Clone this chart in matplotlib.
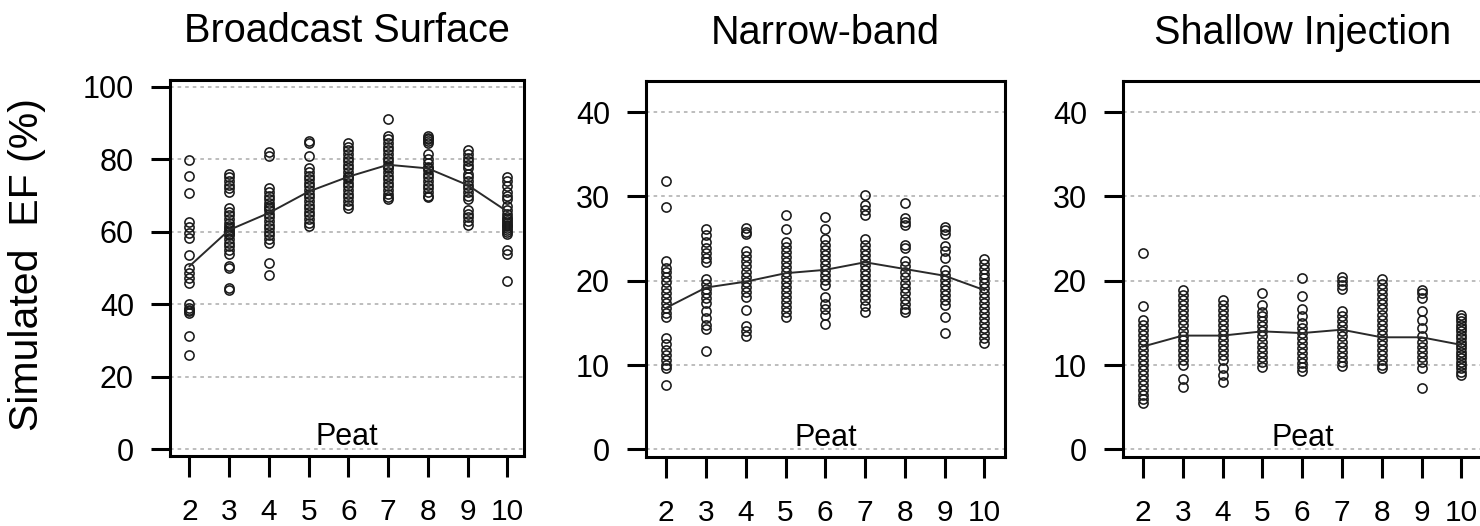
import matplotlib
matplotlib.use("Agg")
import matplotlib.pyplot as plt

plt.rcParams['font.family'] = ['Liberation Sans', 'DejaVu Sans']

peat = [2, 3, 4, 5, 6, 7, 8, 9, 10]
titles = ['Broadcast Surface', 'Narrow-band', 'Shallow Injection']

# simulated EF (%) per peat level
broadcast_pts = [
    [79.8, 75.5, 70.6, 62.6, 61.4, 59.6, 58.2, 53.6, 49.9, 48.5, 47.2, 45.8, 40.0, 39.0, 38.5, 38.0, 37.5, 31.2, 25.9],
    [76.0, 75.0, 74.0, 73.0, 72.0, 71.0, 66.5, 65.5, 64.5, 63.5, 62.5, 61.5, 61.0, 60.5, 60.0, 59.5, 59.0, 58.0, 57.0, 56.0, 55.0, 54.0, 50.5, 50.0, 44.5, 44.0],
    [82.0, 81.0, 72.0, 71.0, 70.0, 69.0, 68.0, 67.0, 66.5, 66.0, 65.0, 64.0, 63.0, 62.0, 61.0, 60.0, 59.0, 58.0, 57.0, 51.5, 48.0],
    [85.0, 84.5, 81.0, 77.5, 76.5, 75.5, 74.5, 73.5, 72.5, 71.5, 70.5, 69.5, 68.5, 67.5, 66.5, 65.5, 64.5, 63.5, 62.5, 61.5],
    [84.5, 83.5, 82.5, 81.5, 80.5, 79.5, 78.5, 77.5, 76.5, 75.5, 75.0, 74.5, 73.5, 72.5, 71.5, 70.5, 69.5, 68.5, 67.5, 66.5],
    [91.0, 86.5, 85.5, 84.5, 83.5, 82.5, 81.5, 80.5, 79.5, 78.5, 78.0, 77.5, 76.5, 75.5, 74.5, 73.5, 72.5, 71.5, 70.5, 69.5, 69.0],
    [86.5, 86.0, 85.5, 85.0, 84.5, 81.5, 80.0, 79.0, 78.0, 77.5, 77.0, 76.0, 75.0, 74.0, 73.0, 72.0, 71.0, 70.0, 69.5],
    [82.5, 81.5, 80.5, 79.5, 78.5, 77.5, 76.0, 75.0, 74.0, 73.0, 72.0, 71.0, 70.0, 69.0, 66.0, 65.0, 64.0, 63.0, 62.0],
    [75.0, 74.0, 72.5, 71.0, 70.0, 69.0, 67.0, 66.0, 65.0, 64.0, 63.5, 63.0, 62.5, 62.0, 61.5, 61.0, 60.5, 60.0, 59.5, 55.0, 54.0, 46.5],
]
broadcast_line = [50.5, 60.5, 65.2, 71.1, 75.2, 78.5, 77.5, 72.9, 65.6]

narrow_pts = [
    [31.8, 28.8, 22.4, 21.5, 21.0, 20.5, 19.8, 19.2, 18.6, 18.0, 17.4, 16.8, 16.2, 15.7, 13.2, 12.5, 11.8, 11.2, 10.6, 10.0, 9.7, 7.6],
    [26.2, 25.4, 24.6, 23.9, 23.3, 22.7, 22.2, 20.2, 19.6, 19.0, 18.5, 18.0, 17.4, 16.4, 15.6, 14.8, 14.3, 11.7],
    [26.3, 25.8, 25.5, 23.5, 22.9, 22.3, 21.7, 21.1, 20.5, 19.9, 19.3, 18.7, 18.1, 16.5, 14.6, 14.0, 13.4],
    [27.8, 26.2, 24.6, 24.0, 23.4, 22.8, 22.2, 21.6, 21.0, 20.4, 19.9, 19.3, 18.7, 18.1, 17.5, 16.9, 16.3, 15.7],
    [27.6, 26.1, 24.9, 24.3, 23.7, 23.1, 22.5, 21.9, 21.3, 20.7, 20.1, 19.5, 18.1, 17.3, 16.7, 15.9, 14.9],
    [30.2, 29.0, 28.4, 27.8, 24.9, 24.3, 23.7, 23.1, 22.5, 21.9, 21.3, 20.7, 20.1, 19.5, 18.9, 18.3, 17.7, 17.0, 16.3],
    [29.2, 27.4, 27.0, 26.6, 24.3, 23.9, 22.3, 21.7, 21.1, 20.5, 19.7, 19.1, 18.6, 17.9, 17.3, 16.7, 16.3],
    [26.4, 26.0, 25.6, 24.1, 23.5, 22.7, 21.3, 20.7, 20.1, 19.5, 18.9, 18.3, 17.7, 17.1, 15.7, 13.8],
    [22.6, 22.0, 21.4, 20.8, 20.3, 19.7, 19.1, 18.6, 18.0, 17.4, 16.8, 16.2, 15.6, 15.0, 14.4, 13.8, 13.2, 12.6],
]
narrow_line = [16.8, 19.2, 19.9, 20.9, 21.3, 22.2, 21.4, 20.6, 18.9]

shallow_pts = [
    [23.3, 17.0, 15.4, 14.8, 14.2, 13.6, 13.0, 12.4, 11.8, 11.2, 10.6, 10.0, 9.4, 8.8, 8.2, 7.6, 7.0, 6.5, 6.0, 5.5],
    [18.9, 18.3, 17.7, 17.1, 16.5, 15.9, 15.3, 14.7, 14.1, 13.5, 13.0, 12.4, 11.8, 11.2, 10.6, 10.0, 8.4, 7.4],
    [17.7, 17.1, 16.5, 15.9, 15.4, 14.8, 14.2, 13.6, 13.0, 12.4, 11.8, 11.2, 10.6, 9.6, 8.8, 8.0],
    [18.6, 17.1, 16.3, 15.8, 15.2, 14.6, 14.0, 13.4, 12.8, 12.2, 11.6, 11.0, 10.4, 9.8],
    [20.3, 18.2, 16.6, 15.8, 15.0, 14.4, 13.8, 13.2, 12.6, 12.0, 11.4, 10.8, 10.2, 9.8, 9.3],
    [20.5, 20.0, 19.5, 19.0, 16.4, 15.8, 15.2, 14.6, 14.0, 13.4, 12.8, 12.2, 11.6, 11.0, 10.4, 9.9],
    [20.2, 19.6, 19.0, 18.4, 17.8, 17.2, 16.6, 16.0, 15.4, 14.8, 14.2, 13.6, 13.0, 12.4, 11.8, 11.2, 10.6, 10.0, 9.6],
    [18.9, 18.5, 18.0, 16.4, 15.4, 14.4, 13.4, 12.8, 12.2, 11.6, 11.0, 10.4, 9.6, 7.3],
    [16.0, 15.6, 15.2, 14.8, 14.4, 14.0, 13.6, 13.2, 12.8, 12.4, 12.0, 11.6, 11.2, 10.8, 10.4, 10.0, 9.6, 9.2, 8.8],
]
shallow_line = [12.2, 13.5, 13.5, 14.0, 13.8, 14.2, 13.3, 13.3, 12.4]

W, H = 1480, 526
fig = plt.figure(figsize=(W / 100, H / 100), dpi=100)

# axes boxes in pixels: left, top, right, bottom
boxes = [(170, 80, 524, 456), (646, 81, 1005, 457), (1123, 81, 1482, 457)]
ylims = [(-1.9, 101.9), (-0.9, 43.7), (-0.9, 43.7)]
xlims = [(1.51, 10.42), (1.49, 10.52), (1.5, 10.52)]
yticks = [[0, 20, 40, 60, 80, 100], [0, 10, 20, 30, 40], [0, 10, 20, 30, 40]]
all_pts = [broadcast_pts, narrow_pts, shallow_pts]
all_line = [broadcast_line, narrow_line, shallow_line]

for i in range(3):
    l, t, r, b = boxes[i]
    ax = fig.add_axes([l / W, 1 - b / H, (r - l) / W, (b - t) / H])
    for yt in yticks[i]:
        ax.axhline(yt, color='#b8b8b8', lw=1.3, ls=(0, (2, 2.2)), zorder=0)
    for x, vals in zip(peat, all_pts[i]):
        ax.plot([x] * len(vals), vals, ls='none', marker='o', ms=6.6,
                mfc='none', mec='#1a1a1a', mew=1.15, zorder=2)
    ax.plot(peat, all_line[i], color='#2a2a2a', lw=1.4, zorder=3)
    ax.set_xlim(*xlims[i])
    ax.set_ylim(*ylims[i])
    ax.set_xticks(peat)
    ax.set_yticks(yticks[i])
    ax.tick_params(axis='x', direction='out', length=15, width=2.2, pad=15, labelsize=21.5)
    ax.tick_params(axis='y', direction='out', length=14, width=2.2, pad=12, labelsize=22)
    for sp in ax.spines.values():
        sp.set_linewidth(2.2)
    ax.set_title(titles[i], fontsize=28.5, pad=27)
    ax.text(0.5, 0.028, 'Peat', transform=ax.transAxes, ha='center',
            va='baseline', fontsize=22)

fig.text(27 / W, 1 - 265 / H, 'Simulated  EF (%)', rotation=90,
         ha='center', va='center', fontsize=29.5)

fig.savefig('out.png', dpi=100, facecolor='white')
